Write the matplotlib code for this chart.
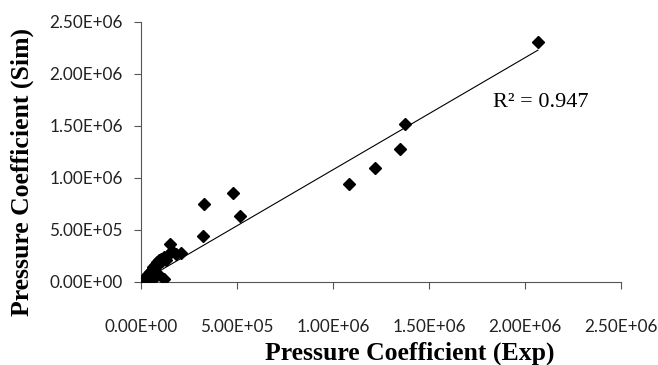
import matplotlib
matplotlib.use("Agg")
import matplotlib.pyplot as plt
import numpy as np
from matplotlib.ticker import FuncFormatter

# experimental vs simulated pressure coefficient
exp_vals = [0, 5e3, 1e4, 1.5e4, 2e4, 2.5e4, 3e4, 3.5e4, 4e4, 4.5e4, 5e4, 5.5e4,
            6e4, 6.5e4, 7e4, 7.5e4, 8e4, 8.5e4, 9e4, 9.5e4, 1.0e5, 1.05e5, 1.1e5,
            1.2e5, 1.3e5, 1.4e5, 1.5e5, 1.6e5, 1.8e5, 2.1e5,
            3e4, 6e4, 9e4, 1.2e5,
            3.25e5, 3.3e5, 4.8e5, 5.15e5,
            1.083e6, 1.219e6, 1.349e6, 1.375e6, 2.067e6]
sim_vals = [0, 1e4, 1.5e4, 3e4, 2.5e4, 5e4, 4e4, 7e4, 6e4, 9e4, 8e4, 1.1e5,
            1.0e5, 1.4e5, 1.2e5, 1.6e5, 1.5e5, 1.9e5, 1.7e5, 2.1e5, 1.9e5, 2.2e5, 2.0e5,
            2.4e5, 2.1e5, 2.6e5, 3.6e5, 3.0e5, 2.7e5, 2.8e5,
            0.5e4, 3e4, 7e4, 2.5e4,
            4.4e5, 7.47e5, 8.53e5, 6.32e5,
            9.38e5, 1.093e6, 1.276e6, 1.516e6, 2.308e6]
r2_text = "R² = 0.947"
ticks = [0, 5e5, 1e6, 1.5e6, 2e6, 2.5e6]

x = np.array(exp_vals)
y = np.array(sim_vals)
# linear trend through the origin
slope = np.sum(x * y) / np.sum(x * x)

fig = plt.figure(figsize=(6.58, 3.65), dpi=100)
ax = fig.add_axes([0.2143, 0.228, 0.7295, 0.7125])

ax.plot(x, y, linestyle="none", marker="D", markersize=6.5, color="black", zorder=3)
xl = np.array([x.min(), x.max()])
ax.plot(xl, slope * xl, color="black", linewidth=0.8, zorder=2)

ax.set_xlim(0, 2.5e6)
ax.set_ylim(0, 2.5e6)
ax.set_xticks(ticks)
ax.set_yticks(ticks)
fmt = FuncFormatter(lambda v, p: "{:.2E}".format(v))
ax.xaxis.set_major_formatter(fmt)
ax.yaxis.set_major_formatter(fmt)

for s in ["top", "right"]:
    ax.spines[s].set_visible(False)
for s in ["left", "bottom"]:
    ax.spines[s].set_color("#555555")
    ax.spines[s].set_linewidth(0.8)

ax.tick_params(axis="both", direction="out", length=5, width=0.8, color="#555555",
               labelsize=12.3, labelcolor="#222222")
ax.tick_params(axis="x", pad=22)
ax.tick_params(axis="y", pad=8)
for lab in ax.get_xticklabels() + ax.get_yticklabels():
    lab.set_family("Lato")

ax.set_xlabel("Pressure Coefficient (Exp)", family="Liberation Serif",
              fontweight="bold", fontsize=18.5, va="center")
ax.set_ylabel("Pressure Coefficient (Sim)", family="Liberation Serif",
              fontweight="bold", fontsize=18.5, va="center")
ax.xaxis.set_label_coords(0.559, -0.274)
ax.yaxis.set_label_coords(-0.248, 0.422)

ax.text(0.733, 0.691, r2_text, transform=ax.transAxes, family="Liberation Serif",
        fontsize=16, va="center", ha="left")

fig.savefig("out.png", dpi=100)
